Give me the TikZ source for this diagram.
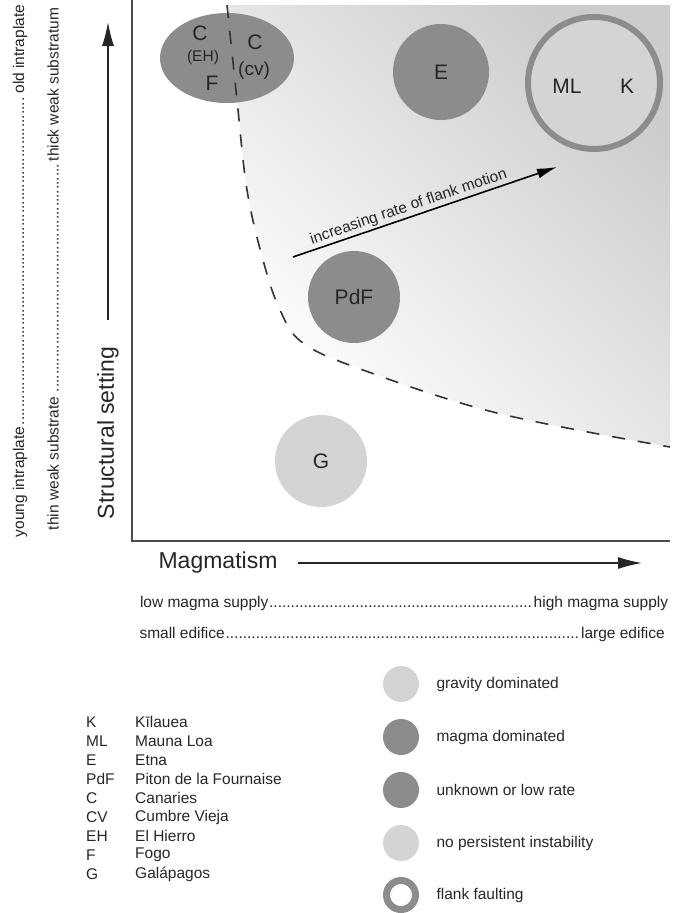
\documentclass[tikz,border=0pt]{standalone}
\usepackage{fontspec}
\setmainfont{Liberation Sans}
\usetikzlibrary{arrows.meta,shapes.geometric}
\definecolor{dk}{HTML}{8C8C8C}
\definecolor{lt}{HTML}{D4D4D4}
\definecolor{txt}{HTML}{262626}
\newcommand{\dotrow}[3]{\makebox[#1]{#2\leaders\hbox{.}\hfill #3}}
\tikzset{
  blob/.style={circle, inner sep=0pt},
  bigfont/.style={font=\fontsize{21}{25}\selectfont},
  midfont/.style={font=\fontsize{19}{23}\selectfont},
  axisfont/.style={font=\fontsize{23}{27}\selectfont},
  smallfont/.style={font=\fontsize{15.5}{18}\selectfont},
  axisline/.style={draw=black!70, line width=1.3},
  axisarrow/.style={draw=black!85, line width=1.3, -{Latex[length=24,width=12]}},
  boundary/.style={draw=black!80, line width=1.6, dash pattern=on 13pt off 13pt},
  legcircle/.style={circle, inner sep=0pt, minimum size=36},
}
\begin{document}
\begin{tikzpicture}[x=1pt,y=-1pt, text=txt, font=\fontsize{15.5}{18}\selectfont]
\useasboundingbox (0,0) rectangle (681,913);
% shaded region
\shade[top color=black!20, middle color=black!5, bottom color=white, shading angle=-45]
  plot[smooth, tension=0.6] coordinates {(227,5) (237,100) (247,190) (263,260) (280,310) (303,343) (363,370) (497,413) (670,447)}
  -- (670,5) -- cycle;
% axes frame
\draw[axisline] (132,0) -- (132,541) -- (670,541);
% ellipse C / F
\node[ellipse, fill=dk, minimum width=134, minimum height=90, inner sep=0pt] (CF) at (227,58) {};
\draw[boundary] plot[smooth, tension=0.6] coordinates {(227,5) (237,100) (247,190) (263,260) (280,310) (303,343) (363,370) (497,413) (670,447)};
\node[bigfont] (c1) at (200,33) {C};
\node[smallfont] (eh) at (203,57) {(EH)};
\node[bigfont] (f1) at (212,83) {F};
\node[bigfont] (c2) at (255,42) {C};
\node[midfont] (cv) at (254,71) {(cv)};
% circles
\node[blob, fill=dk, minimum size=96, bigfont] (E) at (441,72) {E};
\node[blob, draw=dk, line width=6, fill=lt, minimum size=132] (MLK) at (594,83) {};
\node[bigfont] (ML) at (567,86) {ML};
\node[bigfont] (K) at (627,86) {K};
\node[blob, fill=dk, minimum size=92, bigfont] (PdF) at (354,297) {PdF};
\node[blob, fill=lt, minimum size=92, bigfont] (G) at (321,461) {G};
% flank motion arrow
\coordinate (fa) at (293,257);
\coordinate (fb) at (557,167);
\draw[line width=1.6, -{Latex[length=20,width=10]}] (fa) -- node[sloped, above, pos=0.45, inner sep=2pt, smallfont] {increasing rate of flank motion} (fb);
% vertical axis
\coordinate (sa) at (108,320);
\coordinate (sb) at (108,22);
\draw[axisarrow] (sa) -- (sb);
\node[axisfont, rotate=90] (ss) at (108,433) {Structural setting};
\node[rotate=90] (yi) at (20,271) {\dotrow{532pt}{young intraplate}{old intraplate}};
\node[rotate=90] (tw) at (53,269) {\dotrow{522pt}{thin weak substrate}{thick weak substratum}};
% horizontal axis
\node[axisfont] (mag) at (218,563) {Magmatism};
\coordinate (ma) at (298,563);
\coordinate (mb) at (642,563);
\draw[axisarrow] (ma) -- (mb);
\node (ms) at (404,603) {\dotrow{528pt}{low magma supply}{high magma supply}};
\node (ed) at (402,634) {\dotrow{525pt}{small edifice}{large edifice}};
% abbreviations
\foreach \i/\ab/\nm in {0/K/Kīlauea,1/ML/Mauna Loa,2/E/Etna,3/PdF/Piton de la Fournaise,4/C/Canaries,5/CV/Cumbre Vieja,6/EH/El Hierro,7/F/Fogo,8/G/Galápagos}{
  \node[anchor=west, inner sep=0pt] (ab\i) at (86,722+19*\i) {\ab};
  \node[anchor=west, inner sep=0pt] (nm\i) at (135,722+19*\i) {\nm};
}
% legend
\node[legcircle, fill=lt] (l1) at (401,684) {};
\node[anchor=west] (t1) at (433,684) {gravity dominated};
\node[legcircle, fill=dk] (l2) at (401,737) {};
\node[anchor=west] (t2) at (433,737) {magma dominated};
\node[legcircle, fill=dk] (l3) at (401,790) {};
\node[anchor=west] (t3) at (433,790) {unknown or low rate};
\node[legcircle, fill=lt] (l4) at (401,843) {};
\node[anchor=west] (t4) at (433,843) {no persistent instability};
\node[circle, inner sep=0pt, minimum size=29, draw=dk, line width=7, fill=white] (l5) at (401,895) {};
\node[anchor=west] (t5) at (433,895) {flank faulting};
\end{tikzpicture}
\end{document}
